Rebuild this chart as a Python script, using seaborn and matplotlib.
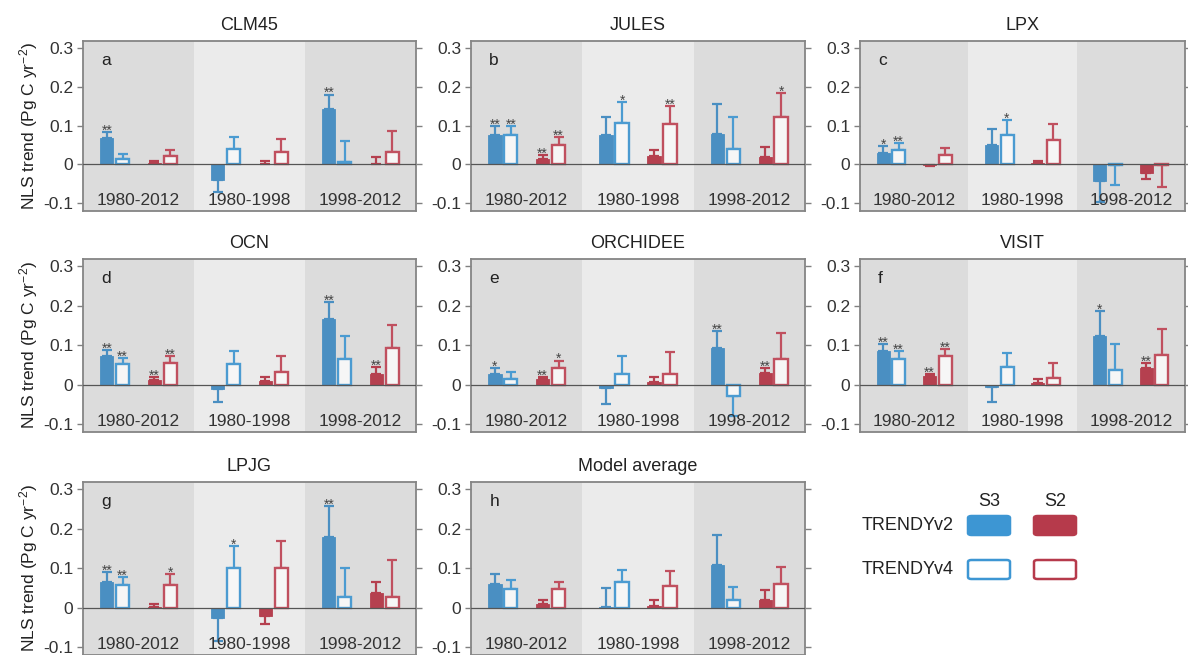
import numpy as np
import pandas as pd
import seaborn as sns
import matplotlib
matplotlib.use("Agg")
import matplotlib.pyplot as plt
from matplotlib.patches import FancyBboxPatch

# ---------------- data ----------------
models = ["CLM45", "JULES", "LPX", "OCN", "ORCHIDEE", "VISIT", "LPJG", "Model average"]
letters = ["a", "b", "c", "d", "e", "f", "g", "h"]
periods = ["1980-2012", "1980-1998", "1998-2012"]
series = ["S3v2", "S3v4", "S2v2", "S2v4"]

# trend values per model, per period
S3v2_val = [[0.067, -0.040, 0.143], [0.075, 0.075, 0.078], [0.030, 0.050, -0.042], [0.072, -0.012, 0.165],
            [0.027, -0.008, 0.092], [0.084, -0.005, 0.124], [0.065, -0.027, 0.179], [0.060, 0.001, 0.107]]
S3v4_val = [[0.015, 0.040, 0.006], [0.075, 0.106, 0.040], [0.038, 0.077, -0.002], [0.053, 0.052, 0.065],
            [0.014, 0.027, -0.030], [0.066, 0.044, 0.036], [0.056, 0.100, 0.026], [0.047, 0.066, 0.020]]
S2v2_val = [[0.003, 0.002, 0.002], [0.015, 0.022, 0.020], [-0.002, 0.004, -0.022], [0.012, 0.008, 0.028],
            [0.013, 0.007, 0.029], [0.021, 0.004, 0.043], [0.002, -0.020, 0.037], [0.009, 0.003, 0.019]]
S2v4_val = [[0.022, 0.032, 0.033], [0.050, 0.103, 0.122], [0.025, 0.063, -0.002], [0.055, 0.033, 0.092],
            [0.041, 0.027, 0.064], [0.072, 0.017, 0.075], [0.056, 0.100, 0.027], [0.047, 0.055, 0.060]]

# error bar tip positions
S3v2_tip = [[0.083, -0.072, 0.180], [0.098, 0.123, 0.155], [0.048, 0.090, -0.098], [0.088, -0.045, 0.210],
            [0.043, -0.048, 0.135], [0.102, -0.044, 0.186], [0.090, -0.085, 0.256], [0.085, 0.049, 0.185]]
S3v4_tip = [[0.028, 0.070, 0.061], [0.098, 0.160, 0.123], [0.055, 0.115, -0.052], [0.068, 0.086, 0.122],
            [0.032, 0.072, -0.080], [0.084, 0.081, 0.102], [0.078, 0.155, 0.100], [0.070, 0.096, 0.052]]
S2v2_tip = [[0.008, 0.010, 0.020], [0.023, 0.038, 0.045], [-0.005, 0.010, -0.038], [0.018, 0.019, 0.045],
            [0.020, 0.020, 0.043], [0.026, 0.015, 0.055], [0.009, -0.041, 0.064], [0.020, 0.020, 0.045]]
S2v4_tip = [[0.038, 0.066, 0.085], [0.070, 0.150, 0.183], [0.043, 0.103, -0.057], [0.072, 0.072, 0.150],
            [0.061, 0.083, 0.130], [0.090, 0.055, 0.141], [0.085, 0.168, 0.121], [0.064, 0.092, 0.103]]

# significance markers
S3v2_sig = [["**", "", "**"], ["**", "", ""], ["*", "", ""], ["**", "", "**"],
            ["*", "", "**"], ["**", "", "*"], ["**", "", "**"], ["", "", ""]]
S3v4_sig = [["", "", ""], ["**", "*", ""], ["**", "*", ""], ["**", "", ""],
            ["", "", ""], ["**", "", ""], ["**", "*", ""], ["", "", ""]]
S2v2_sig = [["", "", ""], ["**", "", ""], ["", "", ""], ["**", "", "**"],
            ["**", "", "**"], ["**", "", "**"], ["", "", ""], ["", "", ""]]
S2v4_sig = [["", "", ""], ["**", "**", "*"], ["", "", ""], ["**", "", ""],
            ["*", "", ""], ["**", "", ""], ["*", "", ""], ["", "", ""]]

vals = {"S3v2": S3v2_val, "S3v4": S3v4_val, "S2v2": S2v2_val, "S2v4": S2v4_val}
tips = {"S3v2": S3v2_tip, "S3v4": S3v4_tip, "S2v2": S2v2_tip, "S2v4": S2v4_tip}
sigs = {"S3v2": S3v2_sig, "S3v4": S3v4_sig, "S2v2": S2v2_sig, "S2v4": S2v4_sig}

# ---------------- style ----------------
sns.set_theme(style="ticks")
plt.rcParams["font.family"] = ["Liberation Sans", "DejaVu Sans"]
plt.rcParams["mathtext.fontset"] = "custom"
plt.rcParams["mathtext.rm"] = "Liberation Sans"
plt.rcParams["mathtext.it"] = "Liberation Sans:italic"

BLUE_F = "#4a8fc2"
BLUE_E = "#4b9bd1"
RED_F = "#b5404f"
RED_E = "#c0505f"
face = {"S3v2": BLUE_F, "S3v4": "#f6f6f6", "S2v2": RED_F, "S2v4": "#f6f6f6"}
edge = {"S3v2": BLUE_F, "S3v4": BLUE_E, "S2v2": RED_F, "S2v4": RED_E}
ecol = {"S3v2": BLUE_F, "S3v4": BLUE_E, "S2v2": RED_F, "S2v4": RED_E}
palette = {"S3v2": BLUE_F, "S3v4": BLUE_E, "gap": "#ffffff", "S2v2": RED_F, "S2v4": RED_E}
bg = ["#dcdcdc", "#ebebeb", "#dcdcdc"]

W, H = 1188, 655
fig = plt.figure(figsize=(W / 100, H / 100), dpi=100)

col_px = [(83, 333), (471, 334), (860, 325)]
row_px = [(41, 170), (259, 173), (482, 173)]

for k, model in enumerate(models):
    r, c = divmod(k, 3)
    lx, wd = col_px[c]
    ty, ht = row_px[r]
    ax = fig.add_axes([lx / W, (H - ty - ht) / H, wd / W, ht / H])

    rows = []
    for s in series:
        for p_i, p in enumerate(periods):
            rows.append({"period": p, "series": s, "value": vals[s][k][p_i]})
    df = pd.DataFrame(rows)

    for i in range(3):
        ax.axvspan(i - 0.5, i + 0.5, color=bg[i], zorder=0, lw=0)

    sns.barplot(data=df, x="period", y="value", hue="series", order=periods,
                hue_order=["S3v2", "S3v4", "gap", "S2v2", "S2v4"], palette=palette,
                width=0.715, gap=0.16, errorbar=None, legend=False, saturation=1,
                ax=ax, zorder=2)

    conts = [cn for cn in ax.containers if len(cn) > 0]
    for s, cn in zip(series, conts):
        for p_i, bar in enumerate(cn.patches):
            bar.set_facecolor(face[s])
            bar.set_edgecolor(edge[s])
            bar.set_linewidth(1.7 if "v4" in s else 0.6)
            bar.set_zorder(2)
            xc = bar.get_x() + bar.get_width() / 2
            v = vals[s][k][p_i]
            t = tips[s][k][p_i]
            lo = max(v - t, 0)
            hi = max(t - v, 0)
            ax.errorbar([xc], [v], yerr=[[lo], [hi]], fmt="none", ecolor=ecol[s],
                        elinewidth=1.6, capsize=3.3, capthick=1.6, zorder=1.8)
            st = sigs[s][k][p_i]
            if st:
                ax.text(xc, t - 0.007, st, ha="center", va="baseline",
                        fontsize=10, color="#444444", zorder=4)

    ax.axhline(0, color="#555555", lw=0.9, zorder=3)
    for i, p in enumerate(periods):
        ax.text(i, -0.093, p, ha="center", va="center", fontsize=12.5,
                color="#333333", zorder=4)

    ax.set_xlim(-0.5, 2.5)
    ax.set_ylim(-0.12, 0.318)
    ax.set_yticks([-0.1, 0, 0.1, 0.2, 0.3])
    ax.set_yticklabels(["-0.1", "0", "0.1", "0.2", "0.3"])
    ax.set_xticks([])
    ax.set_xlabel("")
    ax.tick_params(axis="y", which="both", left=True, right=True, labelright=False,
                   direction="out", length=4, width=1, color="#808080",
                   labelsize=12.5, labelcolor="#333333", pad=3)
    for sp in ax.spines.values():
        sp.set_visible(True)
        sp.set_color("#858585")
        sp.set_linewidth(1.3)
    ax.set_title(model, fontsize=13, pad=8, color="#222222")
    ax.text(0.055, 0.86, letters[k], transform=ax.transAxes, fontsize=12.5, color="#222222")
    if c == 0:
        ax.set_ylabel("NLS trend (Pg C yr$^{-2}$)", fontsize=12.5, color="#222222", labelpad=2)
    else:
        ax.set_ylabel("")

# ---------------- legend ----------------
def fx(x):
    return x / W

def fy(y):
    return (H - y) / H

fig.text(fx(989), fy(502), "S3", ha="center", va="center", fontsize=13, color="#222222")
fig.text(fx(1055), fy(502), "S2", ha="center", va="center", fontsize=13, color="#222222")
fig.text(fx(954), fy(526), "TRENDYv2", ha="right", va="center", fontsize=13, color="#222222")
fig.text(fx(954), fy(570), "TRENDYv4", ha="right", va="center", fontsize=13, color="#222222")
legend_boxes = [(968, 516, "#3d96d3", "#3d96d3"), (1034, 516, "#b63a4b", "#b63a4b"),
                (968, 560, "white", "#3d96d3"), (1034, 560, "white", "#b63a4b")]
for x0, y0, fc, ec in legend_boxes:
    fig.patches.append(FancyBboxPatch((fx(x0), fy(y0 + 19)), 42 / W, 19 / H,
                                      boxstyle="round,pad=0,rounding_size=0.003",
                                      transform=fig.transFigure, facecolor=fc,
                                      edgecolor=ec, linewidth=1.8))

fig.savefig("out.png", dpi=100)
